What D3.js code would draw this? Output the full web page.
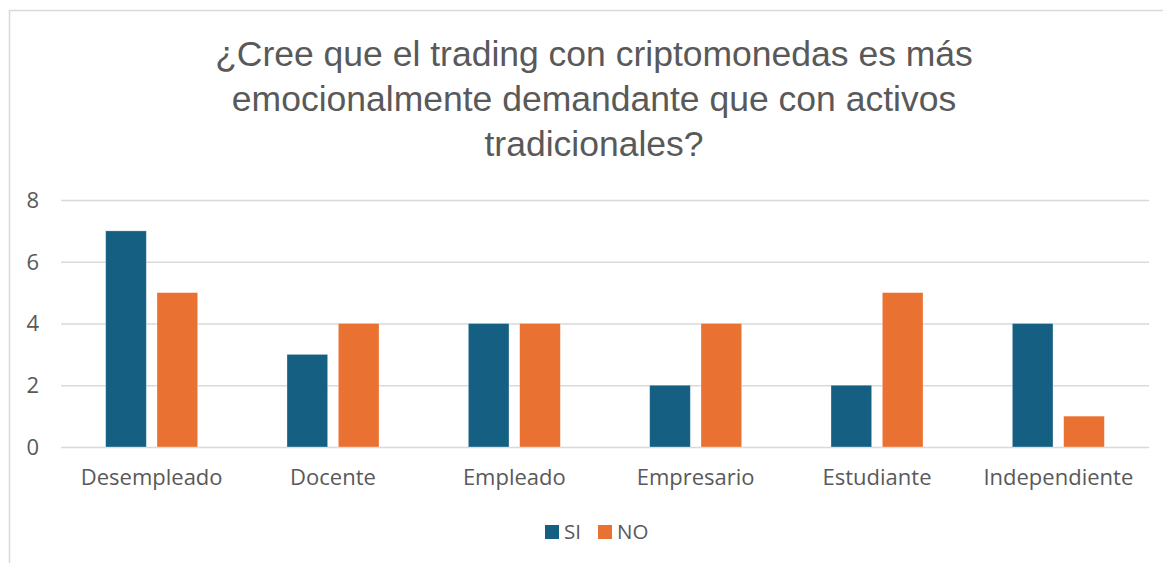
<!DOCTYPE html>
<html>
<head>
<meta charset="utf-8">
<script src="https://cdn.jsdelivr.net/npm/d3@7"></script>
<style>
  body { margin: 0; background: #fff; }
  svg { display: block; }
</style>
</head>
<body>
<div id="chart"></div>
<script>
var categories = ["Desempleado", "Docente", "Empleado", "Empresario", "Estudiante", "Independiente"];
var series = ["SI", "NO"];
var valuesSI = [7, 3, 4, 2, 2, 4];
var valuesNO = [5, 4, 4, 4, 5, 1];
var yTicks = [0, 2, 4, 6, 8];
var titleLines = ["¿Cree que el trading con criptomonedas es más",
                  "emocionalmente demandante que con activos",
                  "tradicionales?"];

var width = 1163, height = 563;
var colors = {"SI": "#156082", "NO": "#e97132"};
var labelFont = "'Open Sans', 'Noto Sans', sans-serif";

var svg = d3.select("#chart").append("svg")
    .attr("width", width)
    .attr("height", height);

// chart frame (only left and top edges visible)
svg.append("rect")
    .attr("x", 9.5).attr("y", 10.5)
    .attr("width", width + 20).attr("height", height + 20)
    .attr("fill", "#fff")
    .attr("stroke", "#d9d9d9")
    .attr("stroke-width", 1.5);

var margin = {left: 61, right: 14, top: 200, bottom: 116};

var x = d3.scaleBand()
    .domain(categories)
    .range([margin.left, width - margin.right])
    .paddingInner(0)
    .paddingOuter(0);

var x1 = d3.scaleBand()
    .domain(series)
    .range([0, x.bandwidth()])
    .paddingInner(0.208)
    .paddingOuter(0.87);

var y = d3.scaleLinear()
    .domain([0, 8])
    .range([height - margin.bottom, margin.top]);

// gridlines
svg.append("g")
    .selectAll("line")
    .data(yTicks)
    .enter()
    .append("line")
    .attr("x1", margin.left)
    .attr("x2", width - margin.right)
    .attr("y1", function (d) { return y(d) + 0.5; })
    .attr("y2", function (d) { return y(d) + 0.5; })
    .attr("stroke", "#d9d9d9")
    .attr("stroke-width", 1.5);

// y labels
svg.append("g")
    .selectAll("text")
    .data(yTicks)
    .enter()
    .append("text")
    .attr("x", 39)
    .attr("y", function (d) { return y(d); })
    .attr("dy", "0.36em")
    .attr("text-anchor", "end")
    .attr("font-family", labelFont)
    .attr("font-size", 22)
    .attr("fill", "#595959")
    .text(function (d) { return d; });

var rows = categories.map(function (c, i) {
  return {cat: c, SI: valuesSI[i], NO: valuesNO[i]};
});

var groups = svg.append("g")
    .selectAll("g")
    .data(rows)
    .enter()
    .append("g")
    .attr("transform", function (d) { return "translate(" + x(d.cat) + ",0)"; });

groups.selectAll("rect")
    .data(function (d) { return series.map(function (s) { return {key: s, value: d[s]}; }); })
    .enter()
    .append("rect")
    .attr("x", function (d) { return x1(d.key); })
    .attr("width", x1.bandwidth())
    .attr("y", function (d) { return y(d.value); })
    .attr("height", function (d) { return y(0) - y(d.value); })
    .attr("fill", function (d) { return colors[d.key]; })
    .attr("stroke", "#fff")
    .attr("stroke-opacity", 0.4)
    .attr("stroke-width", 0.75);

// category labels
svg.append("g")
    .selectAll("text")
    .data(categories)
    .enter()
    .append("text")
    .attr("x", function (d) { return x(d) + x.bandwidth() / 2; })
    .attr("y", 485)
    .attr("text-anchor", "middle")
    .attr("font-family", labelFont)
    .attr("font-size", 22)
    .attr("fill", "#595959")
    .text(function (d) { return d; });

// title
svg.append("g")
    .selectAll("text")
    .data(titleLines)
    .enter()
    .append("text")
    .attr("x", 594)
    .attr("y", function (d, i) { return 66 + i * 45; })
    .attr("text-anchor", "middle")
    .attr("font-family", "'Liberation Sans', Arial, sans-serif")
    .attr("font-size", 35.5)
    .attr("fill", "#595959")
    .text(function (d) { return d; });

// legend
var legend = svg.append("g");
var legendItems = [{key: "SI", x: 545}, {key: "NO", x: 598}];
legend.selectAll("rect")
    .data(legendItems)
    .enter()
    .append("rect")
    .attr("x", function (d) { return d.x; })
    .attr("y", 525)
    .attr("width", 14)
    .attr("height", 14)
    .attr("fill", function (d) { return colors[d.key]; });
legend.selectAll("text")
    .data(legendItems)
    .enter()
    .append("text")
    .attr("x", function (d) { return d.x + 19; })
    .attr("y", 532)
    .attr("dy", "0.36em")
    .attr("font-family", labelFont)
    .attr("font-size", 20.5)
    .attr("fill", "#595959")
    .text(function (d) { return d.key; });
</script>
</body>
</html>
